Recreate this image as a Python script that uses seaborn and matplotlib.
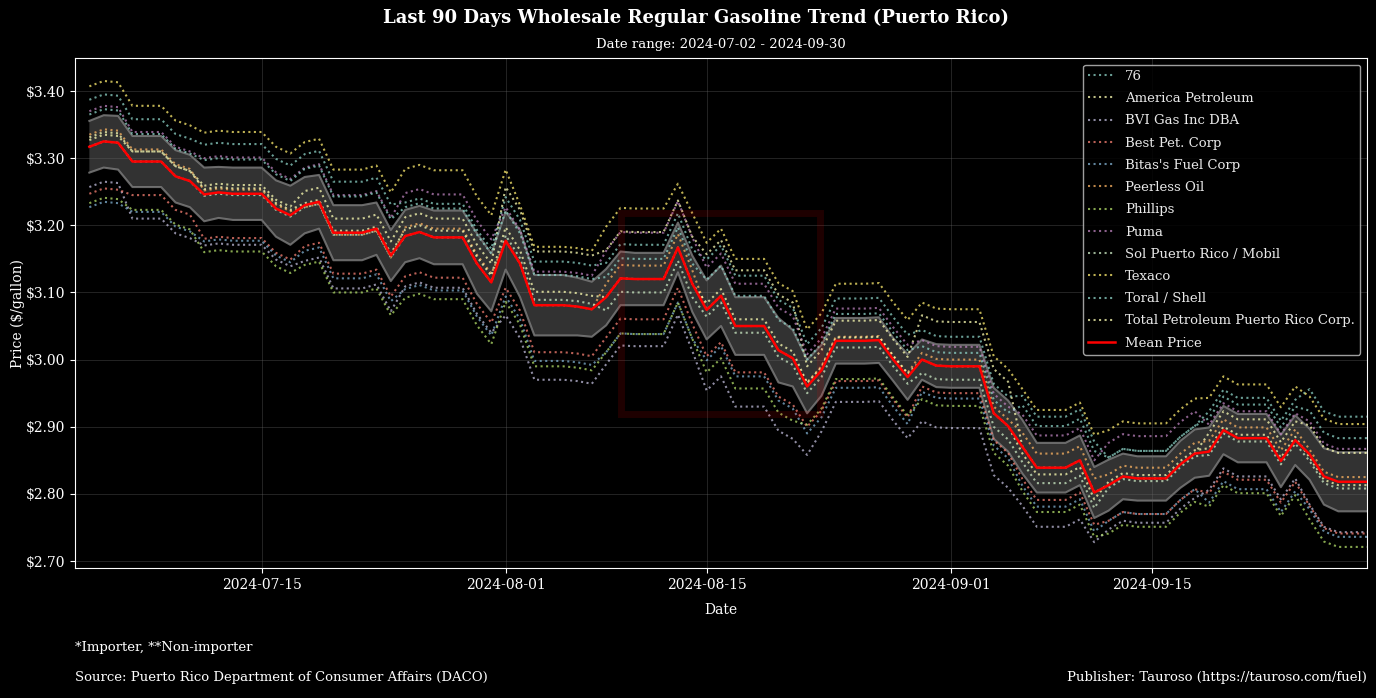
import pandas as pd
import matplotlib
matplotlib.use("Agg")
import matplotlib.pyplot as plt
import matplotlib.dates as mdates
import matplotlib.ticker as mticker
from matplotlib.patches import Rectangle
import seaborn as sns

# ---------------- data ----------------
dates = pd.date_range("2024-07-03", "2024-09-30", freq="D")

retailers = ["76", "America Petroleum", "BVI Gas Inc DBA", "Best Pet. Corp",
             "Bitas's Fuel Corp", "Peerless Oil", "Phillips", "Puma",
             "Sol Puerto Rico / Mobil", "Texaco", "Toral / Shell",
             "Total Petroleum Puerto Rico Corp."]

price_76 = [3.387, 3.395, 3.393,
            3.358, 3.358, 3.358, 3.336, 3.329,
            3.320, 3.323, 3.321, 3.321, 3.321, 3.299, 3.289,
            3.306, 3.311, 3.265, 3.265, 3.265, 3.271, 3.231,
            3.234, 3.240, 3.232, 3.232, 3.232, 3.193, 3.165,
            3.242, 3.208, 3.146, 3.146, 3.146, 3.144, 3.140,
            3.144, 3.172, 3.171, 3.171, 3.171, 3.218, 3.164,
            3.149, 3.170, 3.125, 3.125, 3.125, 3.089, 3.077,
            3.023, 3.047, 3.091, 3.091, 3.091, 3.092, 3.063, 3.037,
            3.044, 3.035, 3.034, 3.034, 3.034, 2.964, 2.945,
            2.946, 2.915, 2.915, 2.915, 2.926, 2.878,
            2.854, 2.867, 2.864, 2.864, 2.864, 2.885, 2.901,
            2.923, 2.955, 2.943, 2.943, 2.943, 2.909, 2.940,
            2.956, 2.923, 2.915, 2.915, 2.915]
price_america = [3.331, 3.339, 3.337,
                 3.310, 3.310, 3.310, 3.288, 3.281,
                 3.259, 3.262, 3.260, 3.260, 3.260, 3.238, 3.228,
                 3.251, 3.256, 3.210, 3.210, 3.210, 3.216, 3.176,
                 3.212, 3.218, 3.210, 3.210, 3.210, 3.171, 3.143,
                 3.257, 3.223, 3.161, 3.161, 3.161, 3.159, 3.155,
                 3.163, 3.191, 3.190, 3.190, 3.190, 3.237, 3.183,
                 3.157, 3.178, 3.133, 3.133, 3.133, 3.097, 3.085,
                 2.990, 3.014, 3.058, 3.058, 3.058, 3.059, 3.030, 3.004,
                 3.066, 3.057, 3.056, 3.056, 3.056, 2.986, 2.967,
                 2.870, 2.839, 2.839, 2.839, 2.850, 2.802,
                 2.813, 2.826, 2.823, 2.823, 2.823, 2.844, 2.860,
                 2.891, 2.923, 2.911, 2.911, 2.911, 2.877, 2.908,
                 2.902, 2.869, 2.861, 2.861, 2.861]
price_bvi = [3.257, 3.265, 3.263,
             3.210, 3.210, 3.210, 3.188, 3.181,
             3.170, 3.173, 3.171, 3.171, 3.171, 3.149, 3.139,
             3.147, 3.152, 3.106, 3.106, 3.106, 3.112, 3.072,
             3.109, 3.115, 3.107, 3.107, 3.107, 3.068, 3.040,
             3.066, 3.032, 2.970, 2.970, 2.970, 2.968, 2.964,
             2.993, 3.021, 3.020, 3.020, 3.020, 3.067, 3.013,
             2.954, 2.975, 2.930, 2.930, 2.930, 2.894, 2.882,
             2.858, 2.893, 2.937, 2.937, 2.937, 2.938, 2.909, 2.883,
             2.908, 2.899, 2.898, 2.898, 2.898, 2.828, 2.809,
             2.782, 2.751, 2.751, 2.751, 2.762, 2.728,
             2.747, 2.760, 2.757, 2.757, 2.757, 2.778, 2.794,
             2.806, 2.838, 2.826, 2.826, 2.826, 2.792, 2.823,
             2.784, 2.751, 2.743, 2.743, 2.743]
price_best = [3.247, 3.255, 3.253,
              3.245, 3.245, 3.245, 3.223, 3.216,
              3.180, 3.183, 3.181, 3.181, 3.181, 3.159, 3.149,
              3.169, 3.174, 3.128, 3.128, 3.128, 3.134, 3.094,
              3.124, 3.130, 3.122, 3.122, 3.122, 3.083, 3.055,
              3.107, 3.073, 3.011, 3.011, 3.011, 3.009, 3.005,
              3.033, 3.061, 3.060, 3.060, 3.060, 3.107, 3.053,
              3.005, 3.026, 2.981, 2.981, 2.981, 2.945, 2.933,
              2.900, 2.924, 2.968, 2.968, 2.968, 2.969, 2.940, 2.914,
              2.960, 2.951, 2.950, 2.950, 2.950, 2.880, 2.861,
              2.822, 2.791, 2.791, 2.791, 2.802, 2.754,
              2.760, 2.773, 2.770, 2.770, 2.770, 2.791, 2.807,
              2.801, 2.833, 2.821, 2.821, 2.821, 2.787, 2.818,
              2.782, 2.749, 2.741, 2.741, 2.741]
price_bitas = [3.227, 3.235, 3.233,
               3.220, 3.220, 3.220, 3.198, 3.191,
               3.176, 3.179, 3.177, 3.177, 3.177, 3.155, 3.145,
               3.162, 3.167, 3.121, 3.121, 3.121, 3.127, 3.087,
               3.105, 3.111, 3.103, 3.103, 3.103, 3.064, 3.036,
               3.094, 3.060, 2.998, 2.998, 2.998, 2.996, 2.992,
               3.011, 3.039, 3.038, 3.038, 3.038, 3.085, 3.031,
               2.999, 3.020, 2.975, 2.975, 2.975, 2.939, 2.927,
               2.890, 2.914, 2.958, 2.958, 2.958, 2.959, 2.930, 2.904,
               2.952, 2.943, 2.942, 2.942, 2.942, 2.872, 2.853,
               2.812, 2.781, 2.781, 2.781, 2.792, 2.744,
               2.760, 2.773, 2.770, 2.770, 2.770, 2.791, 2.807,
               2.787, 2.819, 2.807, 2.807, 2.807, 2.773, 2.804,
               2.777, 2.744, 2.736, 2.736, 2.736]
price_peerless = [3.335, 3.343, 3.341,
                  3.313, 3.313, 3.313, 3.291, 3.284,
                  3.252, 3.255, 3.253, 3.253, 3.253, 3.231, 3.221,
                  3.227, 3.232, 3.186, 3.186, 3.186, 3.192, 3.152,
                  3.197, 3.203, 3.195, 3.195, 3.195, 3.156, 3.128,
                  3.177, 3.143, 3.081, 3.081, 3.081, 3.079, 3.075,
                  3.113, 3.141, 3.140, 3.140, 3.140, 3.187, 3.133,
                  3.074, 3.095, 3.050, 3.050, 3.050, 3.014, 3.002,
                  2.966, 2.990, 3.034, 3.034, 3.034, 3.035, 3.006, 2.980,
                  3.010, 3.001, 3.000, 3.000, 3.000, 2.930, 2.911,
                  2.891, 2.860, 2.860, 2.860, 2.871, 2.823,
                  2.829, 2.842, 2.839, 2.839, 2.839, 2.860, 2.876,
                  2.879, 2.911, 2.899, 2.899, 2.899, 2.865, 2.896,
                  2.866, 2.833, 2.825, 2.825, 2.825]
price_phillips = [3.233, 3.241, 3.239,
                  3.223, 3.223, 3.223, 3.201, 3.194,
                  3.160, 3.163, 3.161, 3.161, 3.161, 3.139, 3.129,
                  3.141, 3.146, 3.100, 3.100, 3.100, 3.106, 3.066,
                  3.092, 3.098, 3.090, 3.090, 3.090, 3.051, 3.023,
                  3.086, 3.052, 2.990, 2.990, 2.990, 2.988, 2.984,
                  3.011, 3.039, 3.038, 3.038, 3.038, 3.085, 3.031,
                  2.981, 3.002, 2.957, 2.957, 2.957, 2.921, 2.909,
                  2.903, 2.927, 2.971, 2.971, 2.971, 2.972, 2.943, 2.917,
                  2.941, 2.932, 2.931, 2.931, 2.931, 2.861, 2.842,
                  2.804, 2.773, 2.773, 2.773, 2.784, 2.736,
                  2.741, 2.754, 2.751, 2.751, 2.751, 2.772, 2.788,
                  2.781, 2.813, 2.801, 2.801, 2.801, 2.767, 2.798,
                  2.762, 2.729, 2.721, 2.721, 2.721]
price_puma = [3.370, 3.378, 3.376,
              3.339, 3.339, 3.339, 3.317, 3.310,
              3.300, 3.303, 3.301, 3.301, 3.301, 3.279, 3.269,
              3.286, 3.291, 3.245, 3.245, 3.245, 3.251, 3.211,
              3.248, 3.254, 3.246, 3.246, 3.246, 3.207, 3.179,
              3.227, 3.193, 3.131, 3.131, 3.131, 3.129, 3.125,
              3.162, 3.190, 3.189, 3.189, 3.189, 3.236, 3.182,
              3.137, 3.158, 3.113, 3.113, 3.113, 3.077, 3.065,
              3.008, 3.032, 3.076, 3.076, 3.076, 3.077, 3.048, 3.022,
              3.029, 3.020, 3.019, 3.019, 3.019, 2.949, 2.930,
              2.918, 2.887, 2.887, 2.887, 2.898, 2.850,
              2.876, 2.889, 2.886, 2.886, 2.886, 2.907, 2.923,
              2.903, 2.935, 2.923, 2.923, 2.923, 2.889, 2.920,
              2.908, 2.875, 2.867, 2.867, 2.867]
price_sol = [3.317, 3.325, 3.323,
             3.295, 3.295, 3.295, 3.273, 3.266,
             3.244, 3.247, 3.245, 3.245, 3.245, 3.223, 3.213,
             3.227, 3.232, 3.186, 3.186, 3.186, 3.192, 3.152,
             3.184, 3.190, 3.182, 3.182, 3.182, 3.143, 3.115,
             3.185, 3.151, 3.089, 3.089, 3.089, 3.087, 3.083,
             3.073, 3.101, 3.100, 3.100, 3.100, 3.147, 3.093,
             3.064, 3.085, 3.040, 3.040, 3.040, 3.004, 2.992,
             2.950, 2.974, 3.018, 3.018, 3.018, 3.019, 2.990, 2.964,
             2.980, 2.971, 2.970, 2.970, 2.970, 2.900, 2.881,
             2.847, 2.816, 2.816, 2.816, 2.827, 2.779,
             2.809, 2.822, 2.819, 2.819, 2.819, 2.840, 2.856,
             2.858, 2.890, 2.878, 2.878, 2.878, 2.844, 2.875,
             2.849, 2.816, 2.808, 2.808, 2.808]
price_texaco = [3.407, 3.415, 3.413,
                3.378, 3.378, 3.378, 3.356, 3.349,
                3.338, 3.341, 3.339, 3.339, 3.339, 3.317, 3.307,
                3.324, 3.329, 3.283, 3.283, 3.283, 3.289, 3.249,
                3.284, 3.290, 3.282, 3.282, 3.282, 3.243, 3.215,
                3.283, 3.230, 3.168, 3.168, 3.168, 3.166, 3.162,
                3.198, 3.226, 3.225, 3.225, 3.225, 3.262, 3.218,
                3.174, 3.195, 3.150, 3.150, 3.150, 3.114, 3.102,
                3.045, 3.069, 3.113, 3.113, 3.113, 3.114, 3.085, 3.059,
                3.085, 3.076, 3.075, 3.075, 3.075, 3.005, 2.986,
                2.956, 2.925, 2.925, 2.925, 2.936, 2.888,
                2.895, 2.908, 2.905, 2.905, 2.905, 2.926, 2.942,
                2.943, 2.975, 2.963, 2.963, 2.963, 2.929, 2.960,
                2.945, 2.912, 2.904, 2.904, 2.904]
price_toral = [3.365, 3.373, 3.371,
               3.336, 3.336, 3.336, 3.314, 3.307,
               3.297, 3.300, 3.298, 3.298, 3.298, 3.276, 3.266,
               3.284, 3.289, 3.243, 3.243, 3.243, 3.249, 3.209,
               3.227, 3.233, 3.225, 3.225, 3.225, 3.186, 3.158,
               3.222, 3.188, 3.126, 3.126, 3.126, 3.124, 3.120,
               3.123, 3.151, 3.150, 3.150, 3.150, 3.197, 3.143,
               3.119, 3.140, 3.095, 3.095, 3.095, 3.059, 3.047,
               3.000, 3.024, 3.068, 3.068, 3.068, 3.069, 3.040, 3.014,
               3.020, 3.011, 3.010, 3.010, 3.010, 2.940, 2.921,
               2.932, 2.901, 2.901, 2.901, 2.912, 2.864,
               2.854, 2.867, 2.864, 2.864, 2.864, 2.885, 2.901,
               2.913, 2.945, 2.933, 2.933, 2.933, 2.899, 2.930,
               2.924, 2.891, 2.883, 2.883, 2.883]
price_total = [3.327, 3.335, 3.333,
               3.310, 3.310, 3.310, 3.288, 3.281,
               3.254, 3.257, 3.255, 3.255, 3.255, 3.233, 3.223,
               3.233, 3.238, 3.192, 3.192, 3.192, 3.198, 3.158,
               3.194, 3.200, 3.192, 3.192, 3.192, 3.153, 3.125,
               3.197, 3.163, 3.101, 3.101, 3.101, 3.099, 3.095,
               3.093, 3.121, 3.120, 3.120, 3.120, 3.167, 3.113,
               3.084, 3.105, 3.060, 3.060, 3.060, 3.024, 3.012,
               2.965, 2.989, 3.033, 3.033, 3.033, 3.034, 3.005, 2.979,
               3.000, 2.991, 2.990, 2.990, 2.990, 2.920, 2.901,
               2.860, 2.829, 2.829, 2.829, 2.840, 2.792,
               2.818, 2.831, 2.828, 2.828, 2.828, 2.849, 2.865,
               2.868, 2.900, 2.888, 2.888, 2.888, 2.854, 2.885,
               2.854, 2.821, 2.813, 2.813, 2.813]

mean_price = [3.317, 3.325, 3.323,
              3.295, 3.295, 3.295, 3.273, 3.266,
              3.246, 3.249, 3.247, 3.247, 3.247, 3.225, 3.215,
              3.230, 3.235, 3.189, 3.189, 3.189, 3.195, 3.155,
              3.184, 3.190, 3.182, 3.182, 3.182, 3.143, 3.115,
              3.177, 3.143, 3.081, 3.081, 3.081, 3.079, 3.075,
              3.093, 3.121, 3.120, 3.120, 3.120, 3.167, 3.113,
              3.074, 3.095, 3.050, 3.050, 3.050, 3.014, 3.002,
              2.960, 2.984, 3.028, 3.028, 3.028, 3.029, 3.000, 2.974,
              3.000, 2.991, 2.990, 2.990, 2.990, 2.920, 2.901,
              2.870, 2.839, 2.839, 2.839, 2.850, 2.802,
              2.813, 2.826, 2.823, 2.823, 2.823, 2.844, 2.860,
              2.863, 2.895, 2.883, 2.883, 2.883, 2.849, 2.880,
              2.859, 2.826, 2.818, 2.818, 2.818]

band_halfwidth = [0.0385, 0.039, 0.040,
                  0.038, 0.038, 0.038, 0.039, 0.039,
                  0.040, 0.038, 0.039, 0.039, 0.039, 0.042, 0.044,
                  0.042, 0.040, 0.041, 0.041, 0.041, 0.039, 0.038,
                  0.039, 0.039, 0.040, 0.040, 0.040, 0.045, 0.043,
                  0.043, 0.050, 0.045, 0.045, 0.045, 0.043, 0.041,
                  0.042, 0.040, 0.039, 0.039, 0.039, 0.037, 0.042,
                  0.044, 0.045, 0.043, 0.043, 0.043, 0.048, 0.042,
                  0.040, 0.038, 0.034, 0.034, 0.034, 0.034, 0.032, 0.034,
                  0.030, 0.032, 0.032, 0.032, 0.032, 0.038, 0.038,
                  0.040, 0.037, 0.037, 0.037, 0.037, 0.038,
                  0.038, 0.034, 0.033, 0.033, 0.033, 0.035, 0.036,
                  0.036, 0.036, 0.036, 0.036, 0.036, 0.039, 0.037,
                  0.038, 0.042, 0.044, 0.044, 0.044]

series = [price_76, price_america, price_bvi, price_best, price_bitas,
          price_peerless, price_phillips, price_puma, price_sol,
          price_texaco, price_toral, price_total]

# ---------------- style ----------------
plt.style.use("dark_background")
plt.rcParams["font.family"] = ["DejaVu Serif", "DejaVu Sans"]
plt.rcParams["font.size"] = 9.5

cycle = ["#8dd3c7", "#feffb3", "#bfbbd9", "#fa8174", "#81b1d2",
         "#fdb462", "#b3de69", "#bc82bd", "#ccebc4", "#ffed6f"]
colors = [cycle[k % len(cycle)] for k in range(len(retailers))]

fig = plt.figure(figsize=(13.76, 6.98), dpi=100)
W, H = 1376, 698
ax = fig.add_axes([75 / W, 1 - 568 / H, (1367 - 75) / W, (568 - 58) / H])
ax.set_facecolor("black")

# band around the mean
lower = [m - h for m, h in zip(mean_price, band_halfwidth)]
upper = [m + h for m, h in zip(mean_price, band_halfwidth)]
ax.fill_between(dates, lower, upper, facecolor="white", alpha=0.2,
                edgecolor="none", zorder=1)
ax.plot(dates, lower, color="#808080", lw=1.5, alpha=0.8, zorder=1.5)
ax.plot(dates, upper, color="#808080", lw=1.5, alpha=0.8, zorder=1.5)

for name, vals, col in zip(retailers, series, colors):
    sns.lineplot(x=dates, y=vals, color=col, linestyle=":", linewidth=1.5,
                 alpha=0.75, label=name, ax=ax, zorder=2)

sns.lineplot(x=dates, y=mean_price, color="red", linewidth=1.8,
             label="Mean Price", ax=ax, zorder=3)

# axes formatting
ax.set_xlim(pd.Timestamp("2024-07-02"), pd.Timestamp("2024-09-30"))
ax.set_ylim(2.6896, 3.4492)
ax.yaxis.set_major_locator(mticker.MultipleLocator(0.10))
ax.yaxis.set_major_formatter(mticker.FuncFormatter(lambda v, p: f"${v:.2f}"))
ax.set_xticks([pd.Timestamp(d) for d in ["2024-07-15", "2024-08-01",
                                          "2024-08-15", "2024-09-01",
                                          "2024-09-15"]])
ax.xaxis.set_major_formatter(mdates.DateFormatter("%Y-%m-%d"))
ax.tick_params(labelsize=10, colors="white")
ax.grid(True, color="#666666", alpha=0.35, linewidth=0.7)
for s in ax.spines.values():
    s.set_color("white")
ax.set_xlabel("Date", fontsize=10, labelpad=8)
ax.set_ylabel("Price ($/gallon)", fontsize=10)
ax.yaxis.set_label_coords(-0.039, 0.5)
ax.set_title("Date range: 2024-07-02 - 2024-09-30", fontsize=9.5, pad=7)

leg = ax.legend(loc="upper right", fontsize=9.5, frameon=True,
                facecolor="black", edgecolor="#bbbbbb", framealpha=0.85,
                borderaxespad=0.5, labelspacing=0.7)
for t in leg.get_texts():
    t.set_color("#e8e8e8")

fig.text(696 / W, 1 - 18 / H, "Last 90 Days Wholesale Regular Gasoline Trend (Puerto Rico)",
         ha="center", va="center", fontsize=13, fontweight="bold")
fig.text(75 / W, 1 - 648 / H, "*Importer, **Non-importer", ha="left",
         va="center", fontsize=9.5)
fig.text(75 / W, 1 - 678 / H,
         "Source: Puerto Rico Department of Consumer Affairs (DACO)",
         ha="left", va="center", fontsize=9.5)
fig.text(1367 / W, 1 - 678 / H, "Publisher: Tauroso (https://tauroso.com/fuel)",
         ha="right", va="center", fontsize=9.5)

# faint watermark logo frame
fig.add_artist(Rectangle((621 / W, 1 - 414 / H), 199 / W, 201 / H,
                         transform=fig.transFigure, fill=False,
                         edgecolor="red", alpha=0.12, lw=5, zorder=10))

fig.savefig("out.png", dpi=100, facecolor="black")
